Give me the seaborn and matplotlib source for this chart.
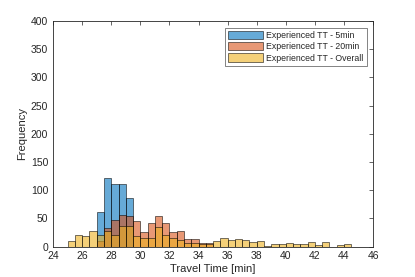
import numpy as np
import pandas as pd
import matplotlib
matplotlib.use("Agg")
import matplotlib.pyplot as plt
import seaborn as sns

# ---- data (bin width 0.5 min, bins start at 25.0) ----
bin_edges = [25.0 + 0.5 * i for i in range(41)]
tt5_start = [27.0, 27.5, 28.0, 28.5, 29.0]
tt5_counts = [61, 121, 111, 111, 86]
tt20_start = [27.0, 27.5, 28.0, 28.5, 29.0, 29.5, 30.0, 30.5, 31.0, 31.5,
              32.0, 32.5, 33.0, 33.5, 34.0, 34.5]
tt20_counts = [9, 33, 47, 56, 55, 45, 25, 42, 55, 42, 25, 28, 13, 13, 6, 6]
ovr_start = [25.0, 25.5, 26.0, 26.5, 27.0, 27.5, 28.0, 28.5, 29.0, 29.5,
             30.0, 30.5, 31.0, 31.5, 32.0, 32.5, 33.0, 33.5, 34.0, 34.5,
             35.0, 35.5, 36.0, 36.5, 37.0, 37.5, 38.0, 38.5, 39.0, 39.5,
             40.0, 40.5, 41.0, 41.5, 42.0, 42.5, 43.0, 43.5, 44.0]
ovr_counts = [10, 20, 18, 28, 21, 28, 20, 36, 36, 18,
              15, 15, 34, 21, 15, 12, 7, 7, 4, 4,
              10, 15, 12, 13, 11, 8, 10, 1, 4, 4,
              6, 4, 4, 8, 2, 8, 0, 2, 4]
labels = ["Experienced TT - 5min", "Experienced TT - 20min", "Experienced TT - Overall"]
colors = [(0.0, 0.447, 0.741), (0.85, 0.325, 0.098), (0.929, 0.694, 0.125)]
x_ticks = list(range(24, 47, 2))
y_ticks = list(range(0, 401, 50))

sns.set_style("white")
plt.rcParams["font.family"] = ["Liberation Sans", "DejaVu Sans"]
txt = (0.15, 0.15, 0.15)

fig = plt.figure(figsize=(4.15, 2.77), dpi=100)
ax = fig.add_axes([0.128, 0.110, 0.771, 0.814])

series = [(tt5_start, tt5_counts), (tt20_start, tt20_counts), (ovr_start, ovr_counts)]
for (st, ct), lab, col in zip(series, labels, colors):
    df = pd.DataFrame({"x": np.array(st) + 0.25, "w": ct})
    sns.histplot(data=df, x="x", weights="w", bins=bin_edges, ax=ax,
                 color=col, alpha=0.6, edgecolor=(0, 0, 0, 0.75),
                 linewidth=0.5, label=lab)

ax.set_xlim(24, 46)
ax.set_ylim(0, 400)
ax.set_xticks(x_ticks)
ax.set_yticks(y_ticks)
ax.set_xlabel("Travel Time [min]", fontsize=8, color=txt, labelpad=2)
ax.set_ylabel("Frequency", fontsize=8, color=txt, labelpad=3)
ax.tick_params(direction="in", length=3, width=0.5, labelsize=7.5,
               colors=txt, top=True, right=True, pad=3.5)
for s in ax.spines.values():
    s.set_visible(True)
    s.set_linewidth(0.6)
    s.set_color(txt)

leg = ax.legend(loc="upper right", fontsize=6.3, frameon=True, fancybox=False,
                edgecolor=(0.15, 0.15, 0.15), handlelength=4.0, handleheight=1.1,
                borderpad=0.35, labelspacing=0.25, handletextpad=0.35,
                borderaxespad=0.75)
leg.get_frame().set_linewidth(0.5)
for t in leg.get_texts():
    t.set_color(txt)

fig.savefig("out.png", dpi=100)
